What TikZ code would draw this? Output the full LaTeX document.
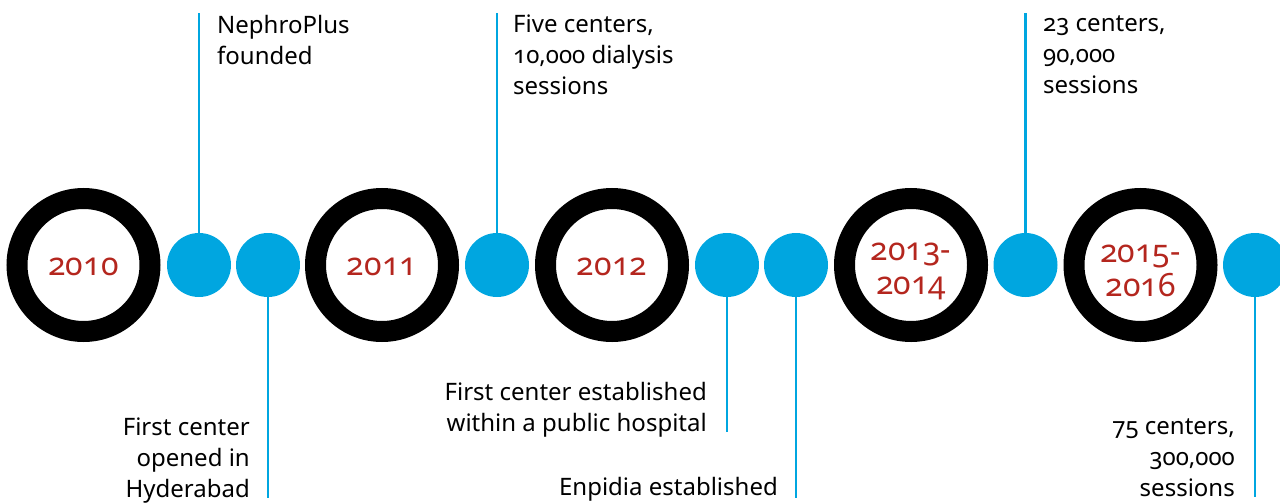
\documentclass[tikz,border=0pt]{standalone}
\usepackage{fontspec}
\setmainfont{Noto Sans}[Numbers=OldStyle]
\definecolor{npblue}{RGB}{0,166,224}
\definecolor{npred}{RGB}{180,38,30}
\begin{document}
\begin{tikzpicture}[x=1pt,y=-1pt,
  ring/.style={circle,draw=black,line width=21pt,minimum size=133pt,inner sep=0pt},
  yr/.style={inner sep=0pt,text=npred,font=\fontsize{32}{34}\selectfont,align=center},
  dot/.style={circle,fill=npblue,minimum size=64pt,inner sep=0pt},
  conn/.style={draw=npblue,line width=2.6pt},
  lab/.style={inner sep=0pt,font=\fontsize{24}{31}\selectfont,text=black}]
\useasboundingbox (0,0) rectangle (1280,503);
% rings
\node[ring] (r1) at (83.5,265) {};
\node[ring] (r2) at (382,265) {};
\node[ring] (r3) at (612,265) {};
\node[ring] (r4) at (911,265) {};
\node[ring] (r5) at (1140.5,265) {};
\node[yr] (y1) at ([yshift=-2pt]r1.center) {2010};
\node[yr] (y2) at ([yshift=-2pt]r2.center) {2011};
\node[yr] (y3) at ([yshift=-2pt]r3.center) {2012};
\node[yr] (y4) at ([yshift=-6pt]r4.center) {2013-\\2014};
\node[yr] (y5) at ([yshift=-6pt]r5.center) {2015-\\2016};
% dots
\node[dot] (d1) at (199,265) {};
\node[dot] (d2) at (268,265) {};
\node[dot] (d3) at (497,265) {};
\node[dot] (d4) at (727,265) {};
\node[dot] (d5) at (796,265) {};
\node[dot] (d6) at (1025.5,265) {};
\node[dot] (d7) at (1255,265) {};
% line ends
\coordinate (e1) at (199,13);
\coordinate (e2) at (268,498);
\coordinate (e3) at (497,13);
\coordinate (e4) at (727,432);
\coordinate (e5) at (796,498);
\coordinate (e6) at (1025.5,13);
\coordinate (e7) at (1255,497);
\foreach \i in {1,...,7}{\draw[conn] (d\i) -- (e\i);}
% labels
\node[lab,anchor=north west,align=left] (l1) at (217,15) {NephroPlus\\founded};
\node[lab,anchor=north west,align=left] (l3) at (513,15) {Five centers,\\10,000 dialysis\\sessions};
\node[lab,anchor=north west,align=left] (l6) at (1043,15) {23 centers,\\90,000\\sessions};
\node[lab,anchor=north east,align=right] (l2) at (250,418) {First center\\opened in\\Hyderabad};
\node[lab,anchor=north east,align=right] (l4) at (707,382) {First center established\\within a public hospital};
\node[lab,anchor=north east,align=right] (l5) at (778,477) {Enpidia established};
\node[lab,anchor=north east,align=right] (l7) at (1235,418) {75 centers,\\300,000\\sessions};
\end{tikzpicture}
\end{document}
